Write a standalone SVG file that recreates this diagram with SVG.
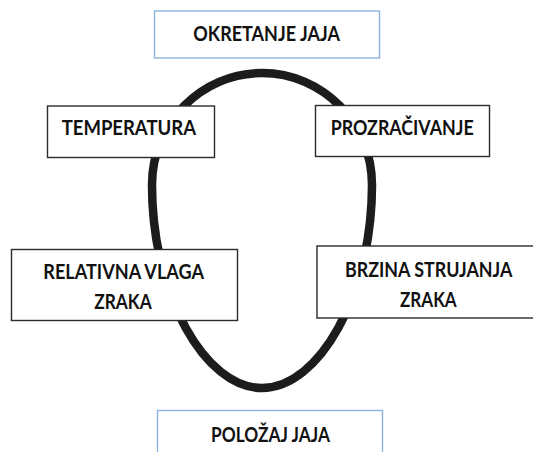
<svg xmlns="http://www.w3.org/2000/svg" width="533" height="452" viewBox="0 0 533 452">
<style>
.box{fill:#fff;stroke:#2b2b2b;stroke-width:1.4}
.bbox{fill:#fff;stroke:#8db3e2;stroke-width:1.4}
.lbl{font-family:Lato,"Liberation Sans",sans-serif;font-weight:700;font-size:20px;fill:#111}
.loop{fill:none;stroke:#1c1c1c;stroke-width:8.5}
</style>
<rect width="533" height="452" fill="#fff"/>
<g id="connectors">
<path class="loop" d="M262,73 C201.2,73 152,123.1 152,185 C152,295 205,388 262,388 C319,388 372,295 372,185 C372,123.1 322.8,73 262,73 Z"/>
</g>
<g id="okretanje">
<rect class="bbox" x="154.5" y="11" width="225" height="47"/>
<text class="lbl" x="193.3" y="40.7" textLength="146.7" lengthAdjust="spacingAndGlyphs">OKRETANJE JAJA</text>
</g>
<g id="temperatura">
<rect class="box" x="47.5" y="106" width="167" height="51.5"/>
<text class="lbl" x="61.7" y="135" textLength="134.3" lengthAdjust="spacingAndGlyphs">TEMPERATURA</text>
</g>
<g id="prozracivanje">
<rect class="box" x="315.5" y="105.5" width="174" height="51"/>
<text class="lbl" x="330.7" y="135" textLength="143" lengthAdjust="spacingAndGlyphs">PROZRAČIVANJE</text>
</g>
<g id="vlaga">
<rect class="box" x="11.5" y="249.5" width="226" height="71"/>
<text class="lbl" x="43.3" y="279.3" textLength="160.7" lengthAdjust="spacingAndGlyphs">RELATIVNA VLAGA</text>
<text class="lbl" x="94.3" y="309.3" textLength="57.4" lengthAdjust="spacingAndGlyphs">ZRAKA</text>
</g>
<g id="brzina">
<rect class="box" x="317" y="246" width="230" height="72"/>
<text class="lbl" x="345" y="276.5" textLength="167.5" lengthAdjust="spacingAndGlyphs">BRZINA STRUJANJA</text>
<text class="lbl" x="400" y="306.5" textLength="56.7" lengthAdjust="spacingAndGlyphs">ZRAKA</text>
</g>
<g id="polozaj">
<rect class="bbox" x="157.5" y="410.5" width="225" height="60"/>
<text class="lbl" x="211" y="441.7" textLength="119" lengthAdjust="spacingAndGlyphs">POLOŽAJ JAJA</text>
</g>
</svg>
